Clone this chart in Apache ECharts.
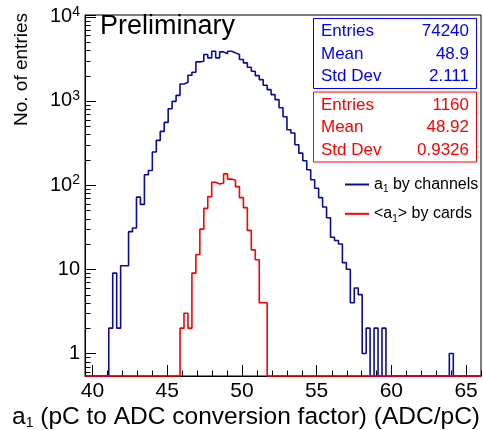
<!DOCTYPE html>
<html>
<head>
<meta charset="utf-8">
<script src="https://cdn.jsdelivr.net/npm/echarts@6/dist/echarts.min.js"></script>
<style>
  html, body { margin: 0; padding: 0; background: #fff; }
  #chart { width: 483px; height: 430px; }
</style>
</head>
<body>
<div id="chart"></div>
<script>
// Histogram binning: 100 equal bins over [39.5, 66]
const xLow = 39.5;
const xHigh = 66;
const nBins = 100;

// a1 per channel (counts per bin)
const channelCounts = [
  0, 0, 0, 0, 0, 0, 2, 9, 2, 11,
  11, 28, 31, 72, 59, 133, 149, 247, 340, 435,
  556, 809, 989, 1166, 1593, 1665, 2018, 2189, 2912, 2960,
  3557, 3250, 3892, 3250, 3830, 3630, 3892, 3727, 3557, 3102,
  2833, 2513, 2250, 2001, 1793, 1534, 1363, 1188, 1036, 830,
  650, 455, 416, 302, 240, 195, 152, 116, 92, 71,
  55, 41, 24, 22, 20, 12, 10, 4, 6, 5,
  1, 2, 0, 2, 0, 2, 0, 0, 0, 0,
  0, 0, 0, 0, 0, 0, 0, 0, 0, 0,
  0, 0, 1, 0, 0, 0, 0, 0, 0, 0
];

// <a1> averaged per card (counts per bin)
const cardCounts = [
  0, 0, 0, 0, 0, 0, 0, 0, 0, 0,
  0, 0, 0, 0, 0, 0, 0, 0, 0, 0,
  0, 0, 0, 0, 2, 3, 2, 9, 15, 30,
  53, 73, 108, 103, 106, 136, 118, 114, 96, 71,
  54, 29, 17, 13, 4, 4, 0, 0, 0, 0,
  0, 0, 0, 0, 0, 0, 0, 0, 0, 0,
  0, 0, 0, 0, 0, 0, 0, 0, 0, 0,
  0, 0, 0, 0, 0, 0, 0, 0, 0, 0,
  0, 0, 0, 0, 0, 0, 0, 0, 0, 0,
  0, 0, 0, 0, 0, 0, 0, 0, 0, 0
];

// Statistics boxes
const statNames = ['Entries', 'Mean', 'Std Dev'];
const channelStats = ['74240', '48.9', '2.111'];
const cardStats = ['1160', '48.92', '0.9326'];

// Axis ranges and ticks
const yMin = 0.54;
const yMax = 10500;
const xLabelValues = [40, 45, 50, 55, 60, 65];
const xMinorValues = [41, 42, 43, 44, 46, 47, 48, 49, 51, 52, 53, 54, 56, 57, 58, 59, 61, 62, 63, 64, 66];
const yMinorValues = [0.6, 0.7, 0.8, 0.9,
  2, 3, 4, 5, 6, 7, 8, 9,
  20, 30, 40, 50, 60, 70, 80, 90,
  200, 300, 400, 500, 600, 700, 800, 900,
  2000, 3000, 4000, 5000, 6000, 7000, 8000, 9000];

const FONT = '"Liberation Sans", Arial, Helvetica, sans-serif';
const BLUE_LINE = '#0c0c9c';
const BLUE_TEXT = '#0000ff';
const RED = '#ff0000';
const MINOR_TICK = 5.5;

// Step outline of a histogram; empty bins sit on the axis floor
function outline(counts) {
  const w = (xHigh - xLow) / nBins;
  const pts = [];
  for (let i = 0; i < nBins; i++) {
    const y = counts[i] > 0 ? counts[i] : yMin;
    pts.push([xLow + i * w, y], [xLow + (i + 1) * w, y]);
  }
  return pts;
}

const legendText = {
  'a1 by channels': '{n|a}{s|1}{n| by channels}',
  '<a1> by cards': '{n|<a}{s|1}{n|> by cards}'
};

function statBox(key, top, color, values) {
  const items = [{
    id: key + 'Box', type: 'rect', z: 10,
    shape: { x: 313.5, y: top + 0.5, width: 163, height: 70 },
    style: { fill: '#fff', stroke: color, lineWidth: 1 }
  }];
  statNames.forEach((name, i) => {
    const cy = top + 13.5 + i * 22.6;
    items.push({
      id: key + 'Name' + i, type: 'text', z: 11, x: 321, y: cy,
      style: { text: name, fill: color, font: '17px ' + FONT, textAlign: 'left', textVerticalAlign: 'middle' }
    });
    items.push({
      id: key + 'Val' + i, type: 'text', z: 11, x: 469, y: cy,
      style: { text: values[i], fill: color, font: '17px ' + FONT, textAlign: 'right', textVerticalAlign: 'middle' }
    });
  });
  return items;
}

const chart = echarts.init(document.getElementById('chart'), null, { renderer: 'canvas' });

const baseGraphics = [
  {
    id: 'prelim', type: 'text', z: 10, x: 100, y: 13,
    style: { text: 'Preliminary', fill: '#000', font: '27px ' + FONT, textAlign: 'left', textVerticalAlign: 'top' }
  },
  {
    id: 'yTitle', type: 'text', z: 10, x: 22, y: 13, rotation: Math.PI / 2,
    style: { text: 'No. of entries', fill: '#000', font: '19px ' + FONT, textAlign: 'right', textVerticalAlign: 'middle' }
  },
  {
    id: 'xTitle', type: 'text', z: 10, x: 480, y: 417,
    style: {
      text: '{n|a}{s|1}{n| (pC to ADC conversion factor) (ADC/pC)}',
      textAlign: 'right', textVerticalAlign: 'middle',
      rich: {
        n: { fontSize: 24.5, fontFamily: FONT, fill: '#000', lineHeight: 26 },
        s: { fontSize: 14, fontFamily: FONT, fill: '#000', lineHeight: 14, verticalAlign: 'bottom' }
      }
    }
  }
].concat(statBox('ch', 18, BLUE_TEXT, channelStats), statBox('cd', 91.5, RED, cardStats));

chart.setOption({
  animation: false,
  backgroundColor: '#fff',
  grid: {
    left: 85, right: 2, top: 15, bottom: 54,
    show: true, borderColor: '#000', borderWidth: 1,
    outerBoundsMode: 'none'
  },
  xAxis: {
    type: 'value', min: xLow, max: xHigh, position: 'bottom',
    axisLine: { show: true, onZero: false, lineStyle: { color: '#000', width: 1 } },
    axisTick: { show: true, inside: true, length: 11, customValues: xLabelValues, lineStyle: { color: '#000' } },
    axisLabel: { customValues: xLabelValues, margin: 5, color: '#000', fontSize: 21, fontFamily: FONT },
    splitLine: { show: false }
  },
  yAxis: {
    type: 'log', logBase: 10, min: yMin, max: yMax,
    axisLine: { show: true, onZero: false, lineStyle: { color: '#000', width: 1 } },
    axisTick: { show: true, inside: true, length: 11, lineStyle: { color: '#000' } },
    splitLine: { show: false },
    axisLabel: {
      margin: 5, color: '#000', fontFamily: FONT,
      formatter: function (v) {
        const l = Math.log10(v);
        const e = Math.round(l);
        if (Math.abs(l - e) > 0.01) return '';
        if (e === 0) return '{b|1}';
        if (e === 1) return '{b|10}';
        return '{b|10}{e|' + e + '}';
      },
      rich: {
        b: { fontSize: 20, fontFamily: FONT, color: '#000', lineHeight: 24 },
        e: { fontSize: 14, fontFamily: FONT, color: '#000', lineHeight: 14, verticalAlign: 'top' }
      }
    }
  },
  legend: {
    orient: 'vertical', left: 340, top: 171.5,
    itemWidth: 24, itemHeight: 2, itemGap: 11.3,
    data: [
      { name: 'a1 by channels', icon: 'rect' },
      { name: '<a1> by cards', icon: 'rect' }
    ],
    formatter: function (name) { return legendText[name]; },
    textStyle: {
      rich: {
        n: { fontSize: 16, fontFamily: FONT, color: '#000', lineHeight: 20 },
        s: { fontSize: 10, fontFamily: FONT, color: '#000', lineHeight: 11, verticalAlign: 'bottom' }
      }
    }
  },
  series: [{
    name: 'a1 by channels', type: 'line',
    data: outline(channelCounts),
    symbol: 'none', showSymbol: false, clip: false, silent: true,
    lineStyle: { color: BLUE_LINE, width: 1.6 }, itemStyle: { color: BLUE_LINE }, z: 3
  }, {
    name: '<a1> by cards', type: 'line',
    data: outline(cardCounts),
    symbol: 'none', showSymbol: false, clip: false, silent: true,
    lineStyle: { color: RED, width: 1.6 }, itemStyle: { color: RED }, z: 4
  }],
  graphic: baseGraphics
});

// Minor ticks, placed through the axes' own scales
const minorTicks = [];
yMinorValues.forEach((v, i) => {
  const p = chart.convertToPixel({ gridIndex: 0 }, [xLow, v]);
  const y = Math.round(p[1]) + 0.5;
  minorTicks.push({
    id: 'ym' + i, type: 'line', z: 1, silent: true,
    shape: { x1: p[0], y1: y, x2: p[0] + MINOR_TICK, y2: y },
    style: { stroke: '#000', lineWidth: 1 }
  });
});
xMinorValues.forEach((v, i) => {
  const p = chart.convertToPixel({ gridIndex: 0 }, [v, yMin]);
  const x = Math.round(p[0]) + 0.5;
  minorTicks.push({
    id: 'xm' + i, type: 'line', z: 1, silent: true,
    shape: { x1: x, y1: p[1], x2: x, y2: p[1] - MINOR_TICK },
    style: { stroke: '#000', lineWidth: 1 }
  });
});
chart.setOption({ graphic: baseGraphics.concat(minorTicks) });
</script>
</body>
</html>
